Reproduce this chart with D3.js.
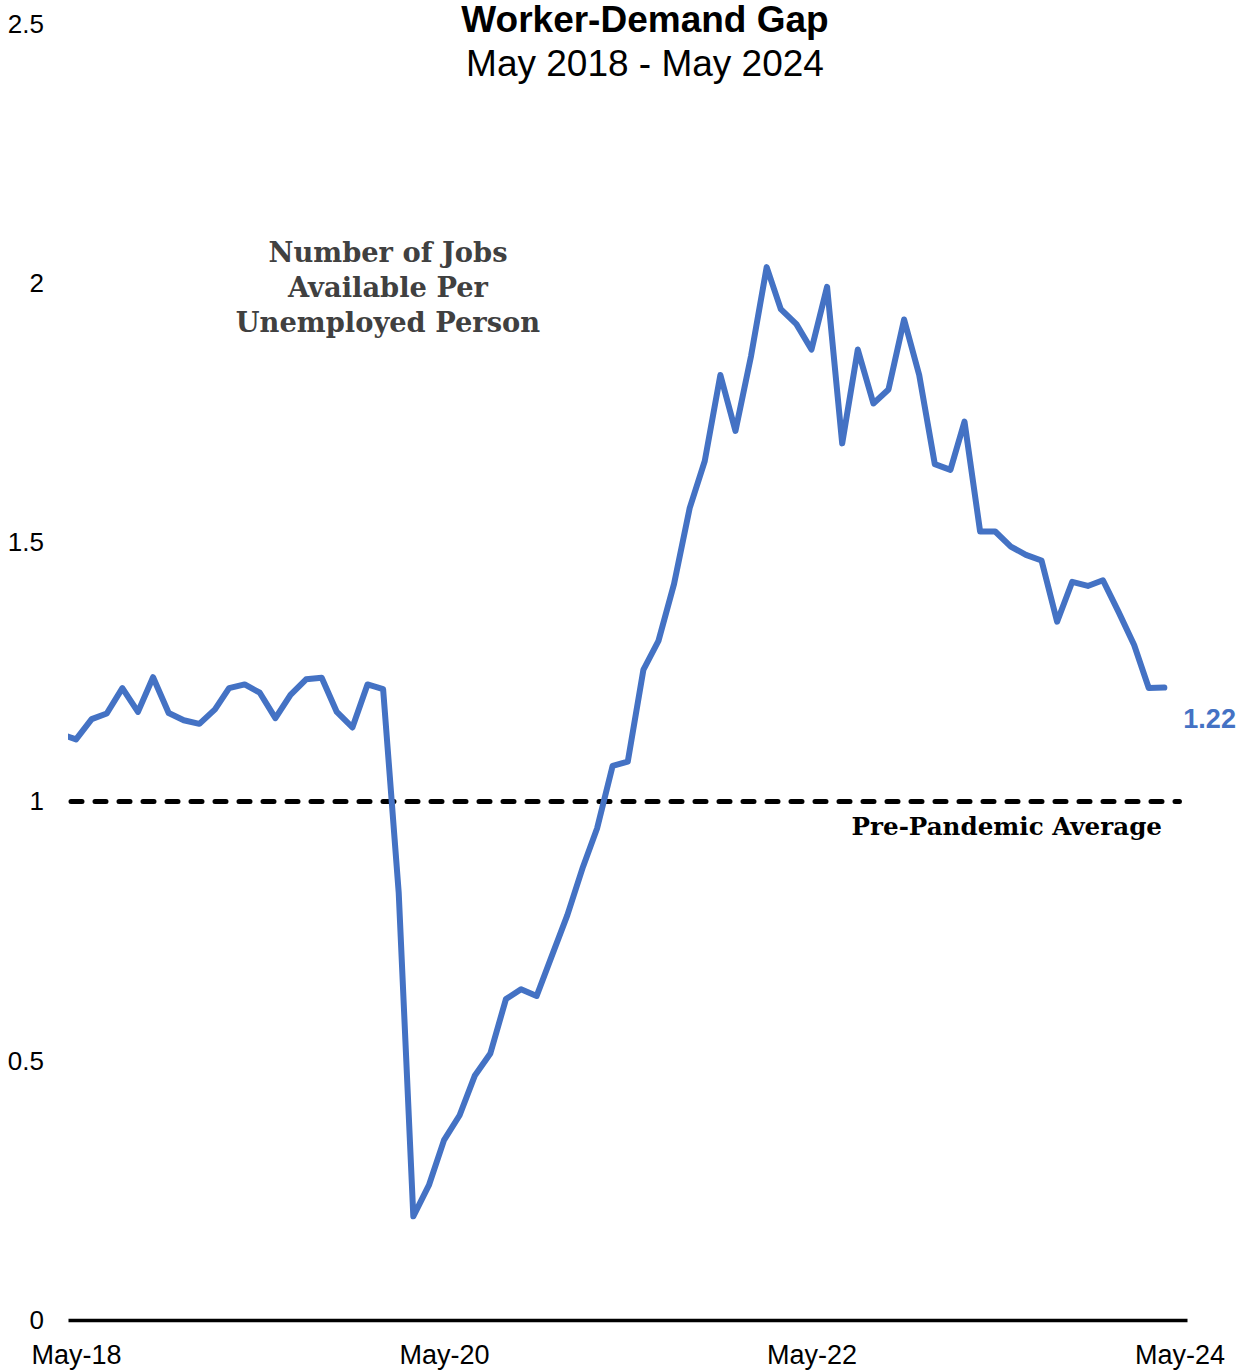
<!DOCTYPE html>
<html>
<head>
<meta charset="utf-8">
<title>Worker-Demand Gap</title>
<script src="https://cdn.jsdelivr.net/npm/d3@7"></script>
<style>
  html, body { margin: 0; padding: 0; background: #fff; }
  svg { display: block; }
</style>
</head>
<body>
<div id="chart"></div>
<script>
// Job openings per unemployed person, monthly
const firstMonth = "2018-04-01";
const lastMonth = "2024-04-01";
const ratio = [
  1.130, 1.120, 1.159, 1.170, 1.219, 1.173, 1.240, 1.171, 1.157, 1.150,
  1.178, 1.219, 1.226, 1.210, 1.161, 1.206, 1.236, 1.239, 1.173, 1.143,
  1.226, 1.217, 0.824, 0.200, 0.260, 0.347, 0.395, 0.471, 0.514, 0.619,
  0.638, 0.625, 0.702, 0.781, 0.874, 0.948, 1.069, 1.077, 1.254, 1.310,
  1.420, 1.566, 1.657, 1.823, 1.715, 1.860, 2.031, 1.950, 1.921, 1.872,
  1.993, 1.691, 1.872, 1.768, 1.795, 1.930, 1.823, 1.651, 1.640, 1.733,
  1.521, 1.521, 1.492, 1.476, 1.465, 1.347, 1.424, 1.416, 1.427, 1.366,
  1.302, 1.219, 1.220
];
const yTicks = [0, 0.5, 1, 1.5, 2, 2.5];
const xTickDates = ["2018-05-01", "2020-05-01", "2022-05-01", "2024-05-01"];
const prePandemicAverage = 1;

const titleText = "Worker-Demand Gap";
const subtitleText = "May 2018 - May 2024";
const seriesNote = ["Number of Jobs", "Available Per", "Unemployed Person"];
const averageNote = "Pre-Pandemic Average";

const months = d3.utcMonth.range(new Date(firstMonth), d3.utcDay.offset(new Date(lastMonth), 1));
const series = months.map((d, i) => ({ date: d, value: ratio[i] }));

const W = 1238, H = 1371;
const plot = { left: 68, right: 1187, top: 24, bottom: 1320 };
const blue = "#4472c4";

const svg = d3.select("#chart").append("svg")
  .attr("width", W).attr("height", H)
  .attr("viewBox", `0 0 ${W} ${H}`);

const x = d3.scaleUtc()
  .domain([new Date("2018-04-15"), new Date("2024-05-16")])
  .range([plot.left, plot.right]);

const y = d3.scaleLinear()
  .domain([0, 2.5])
  .range([plot.bottom, plot.top]);

svg.append("defs").append("clipPath").attr("id", "plot-clip")
  .append("rect")
  .attr("x", plot.left).attr("y", 0)
  .attr("width", plot.right - plot.left).attr("height", H);

// Title
svg.append("text")
  .attr("x", 645).attr("y", 32)
  .attr("text-anchor", "middle")
  .attr("font-family", "'Liberation Sans', Arial, sans-serif")
  .attr("font-weight", "bold")
  .attr("font-size", 37)
  .attr("fill", "#000")
  .text(titleText);

svg.append("text")
  .attr("x", 645).attr("y", 76)
  .attr("text-anchor", "middle")
  .attr("font-family", "'Liberation Sans', Arial, sans-serif")
  .attr("font-size", 37)
  .attr("fill", "#000")
  .text(subtitleText);

// Y axis: labels only
const yAxis = d3.axisLeft(y)
  .tickValues(yTicks)
  .tickFormat(d3.format("~g"))
  .tickSize(0)
  .tickPadding(0);

const gy = svg.append("g")
  .attr("transform", "translate(44,0)")
  .call(yAxis);
gy.select(".domain").remove();
gy.selectAll("text")
  .attr("font-family", "'Liberation Sans', Arial, sans-serif")
  .attr("font-size", 26)
  .attr("fill", "#000");

// X axis: baseline and date labels
const xAxis = d3.axisBottom(x)
  .tickValues(xTickDates.map(d => new Date(d)))
  .tickFormat(d3.utcFormat("%b-%y"))
  .tickSize(0)
  .tickPadding(0);

const gx = svg.append("g")
  .attr("transform", `translate(0,${plot.bottom})`)
  .call(xAxis);
gx.select(".domain")
  .attr("stroke", "#000")
  .attr("stroke-width", 3.5);
gx.selectAll("text")
  .attr("font-family", "'Liberation Sans', Arial, sans-serif")
  .attr("font-size", 27)
  .attr("fill", "#000")
  .attr("dy", null)
  .attr("y", 44);

// Pre-pandemic average reference line
svg.append("line")
  .attr("x1", plot.left + 3)
  .attr("x2", x(new Date(xTickDates[xTickDates.length - 1])))
  .attr("y1", y(prePandemicAverage))
  .attr("y2", y(prePandemicAverage))
  .attr("stroke", "#000")
  .attr("stroke-width", 5)
  .attr("stroke-linecap", "round")
  .attr("stroke-dasharray", "11,13");

svg.append("text")
  .attr("x", 1162).attr("y", 835)
  .attr("text-anchor", "end")
  .attr("font-family", "'DejaVu Serif', Georgia, serif")
  .attr("font-weight", "bold")
  .attr("font-size", 24.6)
  .attr("fill", "#000")
  .text(averageNote);

// Series annotation
const note = svg.append("text")
  .attr("text-anchor", "middle")
  .attr("font-family", "'DejaVu Serif', Georgia, serif")
  .attr("font-weight", "bold")
  .attr("font-size", 27.3)
  .attr("fill", "#404040");
seriesNote.forEach((t, i) => {
  note.append("tspan")
    .attr("x", 388)
    .attr("y", 262 + i * 35)
    .text(t);
});

// Ratio line
const line = d3.line()
  .x(d => x(d.date))
  .y(d => y(d.value));

svg.append("path")
  .datum(series)
  .attr("clip-path", "url(#plot-clip)")
  .attr("fill", "none")
  .attr("stroke", blue)
  .attr("stroke-width", 6)
  .attr("stroke-linejoin", "round")
  .attr("stroke-linecap", "round")
  .attr("d", line);

// Latest value label
const last = series[series.length - 1];
svg.append("text")
  .attr("x", x(last.date) + 19)
  .attr("y", y(last.value) + 40)
  .attr("font-family", "'Liberation Sans', Arial, sans-serif")
  .attr("font-weight", "bold")
  .attr("font-size", 27)
  .attr("fill", blue)
  .text(d3.format(".2f")(last.value));
</script>
</body>
</html>
